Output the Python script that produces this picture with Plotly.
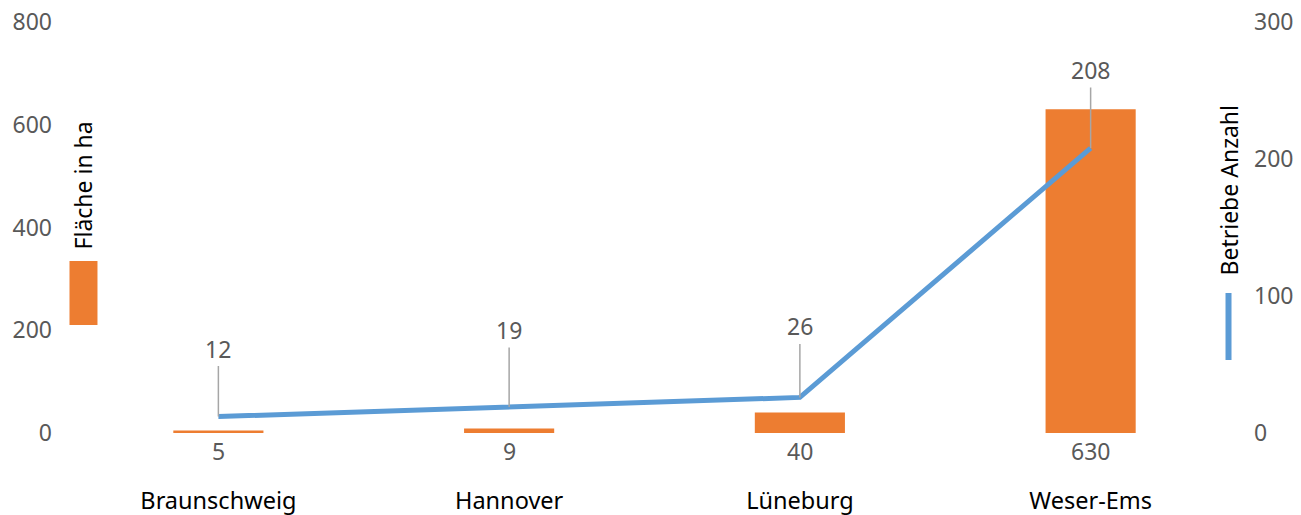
import plotly.graph_objects as go

categories = ["Braunschweig", "Hannover", "Lüneburg", "Weser-Ems"]
flaeche_ha = [5, 9, 40, 630]
betriebe = [12, 19, 26, 208]
left_ticks = [0, 200, 400, 600, 800]
right_ticks = [0, 100, 200, 300]

# label leader offsets (style)
leader_ay = [-68, -77, -71, -78]

ORANGE = "#ED7D31"
BLUE = "#5B9BD5"
GRAY = "#595959"
FONT = "Noto Sans"
FS = 23

PL, PR, PT, PB = 72.5, 1236.5, 22, 433  # plot area in window pixels
W, H = 1301, 515
PW, PH = PR - PL, PB - PT


def px(x):
    return (x - PL) / PW


def py(y):
    return (PB - y) / PH


fig = go.Figure()
fig.add_trace(go.Bar(x=categories, y=flaeche_ha, marker_color=ORANGE, width=0.31,
                     name="Fläche in ha", yaxis="y"))
fig.add_trace(go.Scatter(x=categories, y=betriebe, mode="lines",
                         line=dict(color=BLUE, width=5), name="Betriebe Anzahl", yaxis="y2"))

annotations = []
for c, v in zip(categories, flaeche_ha):
    annotations.append(dict(x=c, y=0, xref="x", yref="y", text=str(v), showarrow=False,
                            yanchor="top", yshift=0, font=dict(family=FONT, size=FS, color=GRAY)))
for c, v, ay in zip(categories, betriebe, leader_ay):
    annotations.append(dict(x=c, y=v, xref="x", yref="y2", text=str(v), showarrow=True,
                            arrowhead=0, arrowwidth=1.5, arrowcolor="#A6A6A6", ax=0, ay=ay,
                            standoff=0, font=dict(family=FONT, size=FS, color=GRAY)))
# legend-like labels
annotations.append(dict(xref="paper", yref="paper", x=px(83), y=py(185),
                        xanchor="center", yanchor="middle",
                        text="Fläche in ha", textangle=-90, showarrow=False,
                        font=dict(family=FONT, size=FS, color="black")))
annotations.append(dict(xref="paper", yref="paper", x=px(1229), y=py(190),
                        xanchor="center", yanchor="middle",
                        text="Betriebe Anzahl", textangle=-90, showarrow=False,
                        font=dict(family=FONT, size=FS, color="black")))

shapes = [
    dict(type="rect", xref="paper", yref="paper",
         x0=px(69), x1=px(97), y0=py(325), y1=py(261),
         fillcolor=ORANGE, line=dict(width=0)),
    dict(type="line", xref="paper", yref="paper",
         x0=px(1229), x1=px(1229), y0=py(360), y1=py(293),
         line=dict(color=BLUE, width=6)),
]

fig.update_layout(
    template="none",
    width=W, height=H,
    margin=dict(l=PL, r=W - PR, t=PT, b=H - PB, autoexpand=False),
    paper_bgcolor="white", plot_bgcolor="white",
    showlegend=False,
    font=dict(family=FONT, size=FS, color=GRAY),
    xaxis=dict(showgrid=False, showline=False, zeroline=False, ticks="", automargin=False,
               tickfont=dict(family=FONT, size=23.5, color="black"), ticklabelstandoff=51),
    yaxis=dict(range=[0, 800], tickvals=left_ticks, showgrid=False, zeroline=False,
               showline=False, ticks="", automargin=False, ticklabeloverflow="allow",
               tickfont=dict(family=FONT, size=FS, color=GRAY), ticklabelstandoff=20),
    yaxis2=dict(range=[0, 300], tickvals=right_ticks, overlaying="y", side="right",
                showgrid=False, zeroline=False, showline=False, ticks="", automargin=False,
                ticklabeloverflow="allow",
                tickfont=dict(family=FONT, size=FS, color=GRAY), ticklabelstandoff=17),
    annotations=annotations, shapes=shapes,
)

fig.write_html("out.html", config={"displayModeBar": False},
               post_script="document.body.style.margin='0';document.body.style.overflow='hidden';")
